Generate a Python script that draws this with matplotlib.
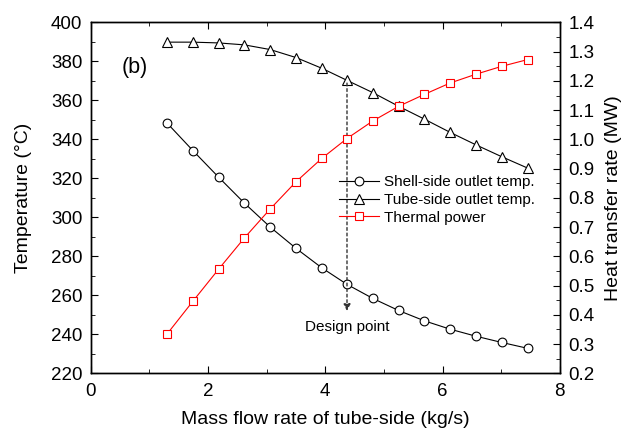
import matplotlib
matplotlib.use("Agg")
import matplotlib.pyplot as plt
from matplotlib.ticker import MultipleLocator, FormatStrFormatter

plt.rcParams['font.family'] = ['Liberation Sans', 'DejaVu Sans']

mass_flow = [1.30, 1.74, 2.18, 2.62, 3.06, 3.50, 3.94, 4.37, 4.81, 5.25, 5.69, 6.13, 6.57, 7.01, 7.45]
shell_out = [348.4, 334.3, 320.6, 307.3, 295.0, 284.1, 274.1, 265.6, 258.4, 252.2, 246.9, 242.6, 239.0, 235.8, 232.8]
tube_out = [389.9, 389.9, 389.5, 388.5, 386.1, 382.0, 376.5, 370.3, 364.0, 357.0, 350.4, 343.6, 337.2, 331.1, 325.3]
thermal_power = [0.334, 0.446, 0.556, 0.663, 0.762, 0.855, 0.935, 1.003, 1.063, 1.113, 1.154, 1.193, 1.223, 1.250, 1.273]
design_x = 4.37
design_tube = 370.3

fig = plt.figure(figsize=(6.22, 4.32), dpi=100)
ax = fig.add_axes([0.146, 0.136, 0.754, 0.812])
ax2 = ax.twinx()

l1, = ax.plot(mass_flow, shell_out, color='black', lw=0.8, marker='o', ms=6.3,
              mfc='white', mec='black', mew=0.8, label='Shell-side outlet temp.')
l2, = ax.plot(mass_flow, tube_out, color='black', lw=0.8, marker='^', ms=7,
              mfc='white', mec='black', mew=0.8, label='Tube-side outlet temp.')
l3, = ax2.plot(mass_flow, thermal_power, color='red', lw=0.8, marker='s', ms=5.5,
               mfc='white', mec='red', mew=0.8, label='Thermal power')

ax.set_xlim(0, 8)
ax.set_ylim(220, 400)
ax2.set_ylim(0.2, 1.4)
ax.xaxis.set_major_locator(MultipleLocator(2))
ax.xaxis.set_minor_locator(MultipleLocator(1))
ax.yaxis.set_major_locator(MultipleLocator(20))
ax.yaxis.set_minor_locator(MultipleLocator(10))
ax2.yaxis.set_major_locator(MultipleLocator(0.1))
ax2.yaxis.set_minor_locator(MultipleLocator(0.05))
ax2.yaxis.set_major_formatter(FormatStrFormatter('%.1f'))

ax.tick_params(which='both', direction='in', top=True, labelsize=13.5, pad=6)
ax.tick_params(axis='x', which='both', pad=7)
ax.tick_params(which='major', length=5)
ax.tick_params(which='minor', length=3)
ax2.tick_params(which='both', direction='in', labelsize=13.5, pad=6)
ax2.tick_params(which='major', length=5)
ax2.tick_params(which='minor', length=3)

ax.set_xlabel('Mass flow rate of tube-side (kg/s)', fontsize=14, labelpad=8)
ax.set_ylabel('Temperature (\u00b0C)', fontsize=14, labelpad=14)
ax2.set_ylabel('Heat transfer rate (MW)', fontsize=14, labelpad=8)

ax.text(0.066, 0.855, '(b)', transform=ax.transAxes, fontsize=15.5)

ax.annotate('', xy=(design_x, 250.5), xytext=(design_x, design_tube),
            arrowprops=dict(arrowstyle='-|>', color='#333333', lw=1.0,
                            linestyle=(0, (2, 2)), mutation_scale=10))
ax.text(design_x, 243.5, 'Design point', ha='center', va='center', fontsize=11)

leg = ax.legend(handles=[l1, l2, l3], loc='upper left', bbox_to_anchor=(0.53, 0.565),
                frameon=False, fontsize=11, handlelength=2.6, handletextpad=0.3,
                labelspacing=0.25, borderaxespad=0, borderpad=0)

for a in (ax, ax2):
    for s in a.spines.values():
        s.set_linewidth(1.0)

fig.savefig('out.png', dpi=100)
